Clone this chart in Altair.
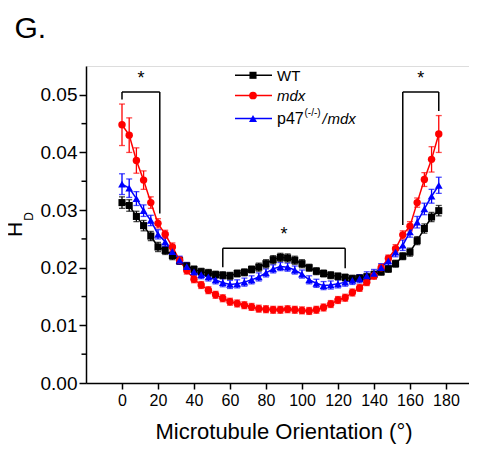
import altair as alt
import pandas as pd

# ---------------- data ----------------
angles = list(range(0, 180, 4))  # 0 .. 176

wt = [0.0313, 0.0308, 0.0289, 0.0273, 0.0255, 0.0236, 0.0230, 0.0221, 0.0212, 0.0203,
      0.0197, 0.0193, 0.0191, 0.0188, 0.0187, 0.0186, 0.0190, 0.0192, 0.0197, 0.0201,
      0.0207, 0.0214, 0.0218, 0.0217, 0.0213, 0.0207, 0.0200, 0.0194, 0.0190, 0.0187,
      0.0185, 0.0183, 0.0181, 0.0182, 0.0184, 0.0188, 0.0193, 0.0198, 0.0207, 0.0220,
      0.0227, 0.0247, 0.0268, 0.0288, 0.0299]
mdx = [0.0448, 0.0430, 0.0386, 0.0352, 0.0313, 0.0277, 0.0258, 0.0236, 0.0213, 0.0195,
       0.0180, 0.0170, 0.0161, 0.0153, 0.0147, 0.0141, 0.0138, 0.0135, 0.0132, 0.0129,
       0.0128, 0.0127, 0.0127, 0.0128, 0.0127, 0.0126, 0.0125, 0.0127, 0.0131, 0.0137,
       0.0144, 0.0148, 0.0157, 0.0165, 0.0175, 0.0186, 0.0200, 0.0216, 0.0233, 0.0257,
       0.0272, 0.0313, 0.0353, 0.0388, 0.0432]
p47 = [0.0345, 0.0338, 0.0320, 0.0299, 0.0282, 0.0258, 0.0245, 0.0228, 0.0213, 0.0202,
       0.0193, 0.0188, 0.0184, 0.0179, 0.0174, 0.0171, 0.0172, 0.0175, 0.0179, 0.0184,
       0.0191, 0.0198, 0.0202, 0.0201, 0.0196, 0.0189, 0.0179, 0.0173, 0.0169, 0.0170,
       0.0172, 0.0175, 0.0178, 0.0181, 0.0186, 0.0190, 0.0200, 0.0212, 0.0227, 0.0239,
       0.0262, 0.0279, 0.0302, 0.0324, 0.0343]

wt_err = [0.0010, 0.0010, 0.0009, 0.0009, 0.0008, 0.0008, 0.0007, 0.0007, 0.0006, 0.0006,
          0.0006, 0.0006, 0.0006, 0.0006, 0.0006, 0.0006, 0.0006, 0.0006, 0.0006, 0.0007,
          0.0007, 0.0007, 0.0007, 0.0007, 0.0007, 0.0007, 0.0006, 0.0006, 0.0006, 0.0006,
          0.0006, 0.0006, 0.0006, 0.0006, 0.0006, 0.0006, 0.0006, 0.0006, 0.0006, 0.0006,
          0.0007, 0.0007, 0.0008, 0.0008, 0.0009]
mdx_err = [0.0036, 0.0030, 0.0022, 0.0016, 0.0010, 0.0008, 0.0007, 0.0007, 0.0006, 0.0006,
           0.0006, 0.0006, 0.0006, 0.0006, 0.0006, 0.0006, 0.0006, 0.0006, 0.0006, 0.0006,
           0.0006, 0.0006, 0.0006, 0.0006, 0.0006, 0.0006, 0.0006, 0.0006, 0.0006, 0.0006,
           0.0006, 0.0006, 0.0006, 0.0006, 0.0006, 0.0006, 0.0006, 0.0006, 0.0007, 0.0007,
           0.0008, 0.0008, 0.0012, 0.0022, 0.0032]
p47_err = [0.0018, 0.0016, 0.0012, 0.0010, 0.0009, 0.0008, 0.0008, 0.0007, 0.0007, 0.0007,
           0.0007, 0.0007, 0.0007, 0.0007, 0.0007, 0.0007, 0.0007, 0.0007, 0.0007, 0.0007,
           0.0007, 0.0007, 0.0007, 0.0007, 0.0007, 0.0007, 0.0007, 0.0007, 0.0007, 0.0007,
           0.0007, 0.0007, 0.0007, 0.0007, 0.0007, 0.0007, 0.0007, 0.0008, 0.0008, 0.0009,
           0.0009, 0.0010, 0.0010, 0.0012, 0.0014]

series_names = ["WT", "mdx", "p47"]
series_colors = ["#000000", "#ff0000", "#0000ff"]
series_shapes = ["square", "circle", "triangle-up"]
series_sizes = [50, 60, 65]

x_ticks = [0, 20, 40, 60, 80, 100, 120, 140, 160, 180]
y_ticks = [0.00, 0.01, 0.02, 0.03, 0.04, 0.05]
y_minor = [0.005, 0.015, 0.025, 0.035, 0.045]

# significance brackets (data units)
br_x0 = [0, 56, 156]
br_x1 = [21, 124, 176]
br_top = [0.0505, 0.0234, 0.0505]
br_left_bottom = [0.0492, 0.0201, 0.0274]
br_right_bottom = [0.0294, 0.0199, 0.0472]

# ---------------- tables ----------------
rows = []
for name, vals, errs in zip(series_names, [wt, mdx, p47], [wt_err, mdx_err, p47_err]):
    for a, v, e in zip(angles, vals, errs):
        rows.append({"series": name, "angle": a, "hd": v, "lo": v - e, "hi": v + e})
df = pd.DataFrame(rows)

seg = []
for x0, x1, t, lb, rb in zip(br_x0, br_x1, br_top, br_left_bottom, br_right_bottom):
    seg.append({"x": x0, "x2": x1, "y": t, "y2": t})
    seg.append({"x": x0, "x2": x0, "y": t, "y2": lb})
    seg.append({"x": x1, "x2": x1, "y": t, "y2": rb})
seg_df = pd.DataFrame(seg)
star_df = pd.DataFrame({"x": [(a + b) / 2 for a, b in zip(br_x0, br_x1)], "y": br_top, "t": ["*"] * 3})

FONT = "Liberation Sans"
W, H = 383, 317
xs = alt.Scale(domain=[-20, 192.8], nice=False, zero=False)
ys = alt.Scale(domain=[0, 0.055], nice=False, zero=False)
color = alt.Color("series:N", scale=alt.Scale(domain=series_names, range=series_colors), legend=None)
shape = alt.Shape("series:N", scale=alt.Scale(domain=series_names, range=series_shapes), legend=None)
size = alt.Size("series:N", scale=alt.Scale(domain=series_names, range=series_sizes), legend=None)

xaxis = alt.Axis(values=x_ticks, title=None, grid=False, tickSize=6, tickWidth=1.5, domainWidth=1.5,
                 domainColor="black", tickColor="black", labelColor="black", labelFontSize=16,
                 labelFont=FONT, labelPadding=3, labelFlush=False, labelOverlap=False)
yaxis = alt.Axis(values=y_ticks, format=".2f", title=None, grid=False, tickSize=7, tickWidth=1.5,
                 domainWidth=1.5, domainColor="black", tickColor="black", labelColor="black",
                 labelFontSize=19, labelFont=FONT, labelPadding=2, labelFlush=False)

base = alt.Chart(df)

err_rule = base.mark_rule(strokeWidth=1.3).encode(
    x=alt.X("angle:Q", scale=xs, axis=xaxis),
    y=alt.Y("lo:Q", scale=ys, axis=yaxis),
    y2="hi:Q", color=color, detail="series:N")
cap_hi = base.mark_tick(orient="horizontal", size=6, thickness=1.3).encode(
    x=alt.X("angle:Q", scale=xs), y=alt.Y("hi:Q", scale=ys), color=color)
cap_lo = base.mark_tick(orient="horizontal", size=6, thickness=1.3).encode(
    x=alt.X("angle:Q", scale=xs), y=alt.Y("lo:Q", scale=ys), color=color)
lines = base.mark_line(strokeWidth=1.5).encode(
    x=alt.X("angle:Q", scale=xs), y=alt.Y("hd:Q", scale=ys), color=color, detail="series:N",
    order="angle:Q")
pts = base.mark_point(filled=True, opacity=1).encode(
    x=alt.X("angle:Q", scale=xs), y=alt.Y("hd:Q", scale=ys), color=color, shape=shape, size=size)

minor = alt.Chart(pd.DataFrame({"v": y_minor})).mark_rule(color="black", strokeWidth=1.5).encode(
    x=alt.value(-4.5), x2=alt.value(0), y=alt.Y("v:Q", scale=ys))

brackets = alt.Chart(seg_df).mark_rule(color="black", strokeWidth=1.5).encode(
    x=alt.X("x:Q", scale=xs), x2="x2:Q", y=alt.Y("y:Q", scale=ys), y2="y2:Q")
stars = alt.Chart(star_df).mark_text(font=FONT, fontSize=18, dy=-4, baseline="bottom",
                                      color="black").encode(
    x=alt.X("x:Q", scale=xs), y=alt.Y("y:Q", scale=ys), text="t:N")

# legend (drawn by hand)
leg_layers = []
leg_y = [9.3, 29.5, 52.5]
for name, col, shp, sz, ly in zip(series_names, series_colors, series_shapes, series_sizes, leg_y):
    one = alt.Chart(pd.DataFrame({"s": [name]}))
    leg_layers.append(one.mark_rule(color=col, strokeWidth=1.5).encode(
        x=alt.value(149), x2=alt.value(186), y=alt.value(ly)))
    leg_layers.append(one.mark_point(color=col, filled=True, opacity=1, shape=shp, size=sz).encode(
        x=alt.value(167), y=alt.value(ly)))

def txt(s, x, y, size=15, style="normal", align="left", angle=0, baseline="middle", weight="normal"):
    kw = dict(font=FONT, fontSize=size, fontStyle=style, align=align, baseline=baseline,
              color="black", fontWeight=weight)
    if angle:
        kw["angle"] = angle
    return alt.Chart(pd.DataFrame({"t": [s]})).mark_text(**kw).encode(
        x=alt.value(x), y=alt.value(y), text="t:N")

labels = [
    txt("WT", 191, 9.8),
    txt("mdx", 191, 29.8, style="italic"),
    txt("p47", 191, 52.8, size=16),
    txt("(-/-)", 218.5, 47.0, size=10),
    txt("/", 236.5, 52.8, style="italic"),
    txt("mdx", 241.5, 52.8, style="italic"),
    txt("G.", -71.5, -28.4, size=30, baseline="alphabetic"),
    txt("H", -70, 163.3, size=21, angle=270, align="center"),
    txt("D", -57, 150.5, size=12, angle=270, align="center"),
    txt("Microtubule Orientation (°)", 198, 373.3, size=22, align="center", baseline="alphabetic"),
]

chart = alt.layer(minor, err_rule, cap_hi, cap_lo, lines, pts, brackets, stars,
                  *leg_layers, *labels).properties(
    width=W, height=H,
    autosize=alt.AutoSizeParams(type="none"),
    padding={"left": 78, "top": 58, "right": 0, "bottom": 61},
).configure_view(stroke=None).configure(background="white")

chart.save("out.html", embed_options={"renderer": "svg", "actions": False})
